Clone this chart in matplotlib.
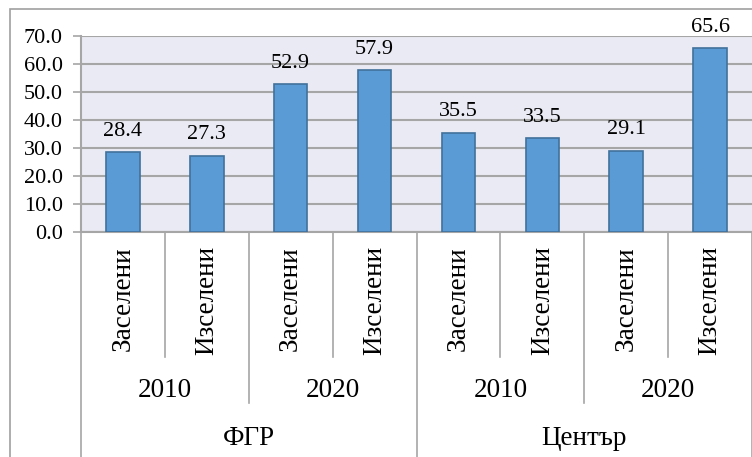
import matplotlib
matplotlib.use("Agg")
import matplotlib.pyplot as plt
from matplotlib.transforms import blended_transform_factory
from matplotlib.lines import Line2D
from matplotlib.patches import Rectangle

# data
regions = ["ФГР", "Център"]
years = ["2010", "2020"]
flows = ["Заселени", "Изселени"]
values = [28.4, 27.3, 52.9, 57.9, 35.5, 33.5, 29.1, 65.6]
yticks = [0, 10, 20, 30, 40, 50, 60, 70]

W, H = 752, 457
plt.rcParams["font.family"] = ["Liberation Serif", "DejaVu Serif"]

fig = plt.figure(figsize=(W / 100, H / 100), dpi=100)
fig.patch.set_facecolor("white")


def fy(r):
    # pixel row -> figure fraction
    return 1 - r / H


# chart border
fig.patches.append(Rectangle((10 / W, fy(470)), 800 / W, (470 - 9) / H,
                             transform=fig.transFigure, fill=False,
                             edgecolor="#A0A0A0", lw=1.2))

L, R, T, B = 81, 752, 36, 232
ax = fig.add_axes([L / W, fy(B), (R - L) / W, (B - T) / H])
ax.set_facecolor("#E9EAF3")

x = list(range(len(values)))
ax.bar(x, values, width=0.4, color="#5B9BD5", edgecolor="#41719C", lw=1.2, zorder=3)
for xi, v in zip(x, values):
    ax.annotate(f"{v:.1f}", (xi, v), xytext=(0, 8), textcoords="offset points",
                ha="center", va="bottom", fontsize=16, clip_on=False)

ax.set_xlim(-0.5, len(values) - 0.5)
ax.set_ylim(0, 70)
ax.set_yticks(yticks)
ax.set_yticklabels([f"{t:.1f}" for t in yticks], fontsize=16)
ax.yaxis.grid(True, color="#A6A6A6", lw=1.5, zorder=0)
ax.set_xticks([])
for s in ["top", "right"]:
    ax.spines[s].set_visible(False)
ax.spines["left"].set_color("#A6A6A6")
ax.spines["bottom"].set_color("#A6A6A6")
ax.spines["left"].set_linewidth(1.5)
ax.spines["bottom"].set_linewidth(1.5)
ax.tick_params(axis="y", length=6, width=1.2, color="#A6A6A6", pad=7)

tr = blended_transform_factory(ax.transData, fig.transFigure)
sep = dict(color="#A6A6A6", lw=1.2, transform=tr, clip_on=False)

# category labels (three levels)
for i in range(len(values)):
    ax.text(i, fy(246), flows[i % 2], rotation=90, ha="center", va="top",
            fontsize=19.5, transform=tr)
for j in range(len(regions) * len(years)):
    ax.text(2 * j + 0.5, fy(397), years[j % 2], ha="center", va="baseline",
            fontsize=19.5, transform=tr)
for k, reg in enumerate(regions):
    ax.text(4 * k + 1.5, fy(445), reg, ha="center", va="baseline",
            fontsize=19.5, transform=tr)

# separators
for i in range(len(values) + 1):
    xb = i - 0.5
    if i % 4 == 0:
        y1 = 470
    elif i % 2 == 0:
        y1 = 403
    else:
        y1 = 357
    fig.add_artist(Line2D([xb, xb], [fy(B), fy(y1)], **sep))

fig.savefig("out.png", dpi=100)
